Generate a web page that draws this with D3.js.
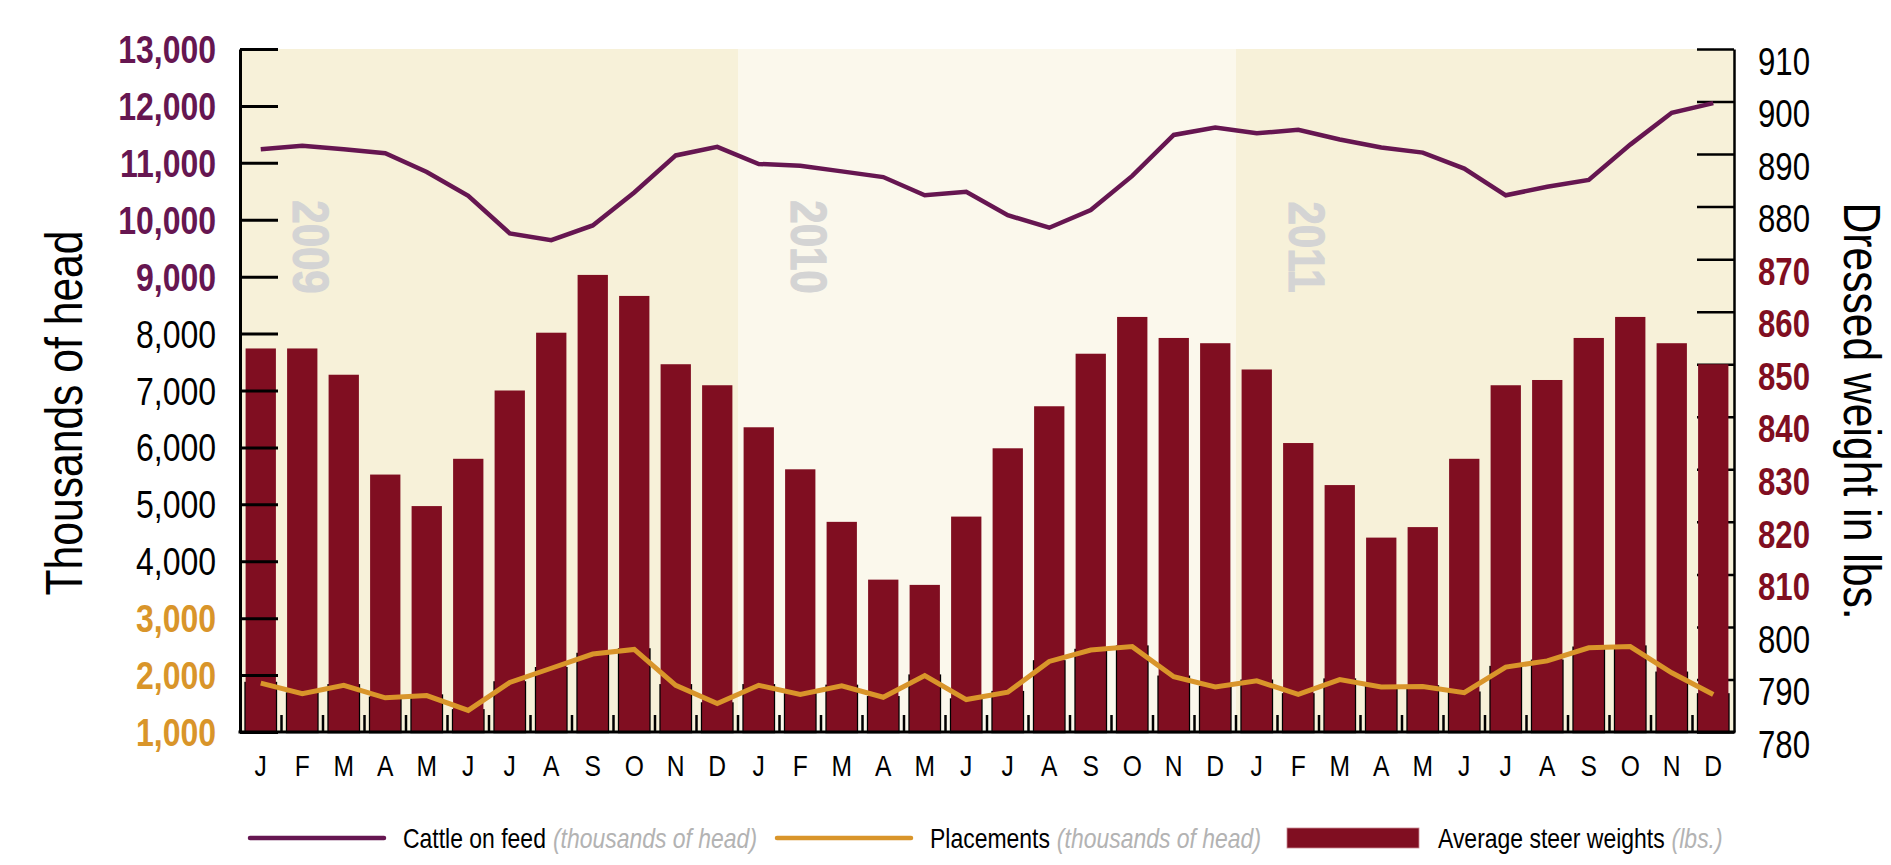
<!DOCTYPE html>
<html>
<head>
<meta charset="utf-8">
<script src="https://cdn.jsdelivr.net/npm/d3@7"></script>
<style>
  body { margin: 0; background: #fff; }
  text { font-family: "Liberation Sans", Arial, sans-serif; }
</style>
</head>
<body>
<svg id="chart" width="1891" height="865"></svg>
<script>
// data
var months = ["J", "F", "M", "A", "M", "J", "J", "A", "S", "O", "N", "D"];
var years = ["2009", "2010", "2011"];

// cattle on feed, thousands of head (left axis)
var cattleOnFeed = [
  11240, 11300, 11240, 11170, 10840, 10420, 9760, 9640, 9900, 10480, 11130, 11280,
  10980, 10950, 10850, 10750, 10430, 10490, 10080, 9860, 10170, 10770, 11490, 11620,
  11520, 11580, 11410, 11270, 11180, 10900, 10430, 10580, 10700, 11320, 11880, 12050
];
// placements, thousands of head (left axis)
var placements = [
  1860, 1675, 1820, 1600, 1640, 1380, 1870, 2120, 2370, 2450, 1820, 1500,
  1820, 1660, 1810, 1610, 1990, 1570, 1700, 2240, 2440, 2500, 1970, 1790,
  1900, 1660, 1920, 1790, 1800, 1690, 2140, 2250, 2480, 2500, 2040, 1660
];
// average steer dressed weights, lbs (right axis)
var steerWeights = [
  853, 853, 848, 829, 823, 832, 845, 856, 867, 863, 850, 846,
  838, 830, 820, 809, 808, 821, 834, 842, 852, 859, 855, 854,
  849, 835, 827, 817, 819, 832, 846, 847, 855, 859, 854, 850
];

var leftTicks = d3.range(1000, 13001, 1000);
var rightTicks = d3.range(780, 911, 10);
var leftPurple = [9000, 10000, 11000, 12000, 13000];
var leftOrange = [1000, 2000, 3000];
var rightRed = [810, 820, 830, 840, 850, 860, 870];

var purple = "#661651", orange = "#d9952a", barRed = "#800e21";

var svg = d3.select("#chart");
var plotL = 240, plotR = 1734, plotT = 49, plotB = 732;

// squeeze text to mimic a condensed face
function narrow(sel, k) {
  sel.each(function () {
    var w = this.getComputedTextLength();
    d3.select(this).attr("textLength", w * k).attr("lengthAdjust", "spacingAndGlyphs");
  });
}

var x = d3.scaleBand().domain(d3.range(36)).range([plotL, plotR])
    .paddingInner(0.27).paddingOuter(0.135);
var yL = d3.scaleLinear().domain([1000, 13000]).range([plotB, plotT]);
var yR = d3.scaleLinear().domain([780, 910]).range([plotB, plotT]);
var gap = (x.step() - x.bandwidth()) / 2;
function slotStart(i) { return x(i) - gap; }
function mid(i) { return x(i) + x.bandwidth() / 2; }

// year backgrounds
svg.append("g").selectAll("rect").data(years).enter().append("rect")
    .attr("x", function (d, i) { return slotStart(i * 12); })
    .attr("y", plotT)
    .attr("width", x.step() * 12)
    .attr("height", plotB - plotT)
    .attr("fill", function (d, i) { return i === 1 ? "#fbf8ec" : "#f7f1d9"; });

svg.append("g").selectAll("text").data(years).enter().append("text")
    .attr("transform", function (d, i) { return "translate(" + (slotStart(i * 12) + 71) + "," + 247 + ") rotate(90)"; })
    .attr("text-anchor", "middle")
    .attr("dy", "0.36em")
    .attr("font-size", 50)
    .attr("font-weight", "bold")
    .attr("fill", "#d4d4d4")
    .attr("stroke", "#d4d4d4")
    .attr("stroke-width", 1.2)
    .text(function (d) { return d; })
    .call(narrow, 0.84);

// right axis, ticks sit under the bars
var rAxis = svg.append("g").attr("transform", "translate(" + plotR + ",0)")
    .call(d3.axisLeft(yR).tickValues(rightTicks).tickSize(37).tickSizeOuter(0).tickFormat(""));
rAxis.selectAll("line").attr("stroke", "#000").attr("stroke-width", 2.5);
rAxis.select(".domain").attr("stroke", "#000").attr("stroke-width", 2.5);

// placements drawn as outlined columns hidden behind the weight bars
svg.append("g").selectAll("rect").data(placements).enter().append("rect")
    .attr("x", function (d, i) { return x(i); })
    .attr("y", function (d) { return yL(d); })
    .attr("width", x.bandwidth())
    .attr("height", function (d) { return plotB - yL(d); })
    .attr("fill", "none")
    .attr("stroke", "#000")
    .attr("stroke-width", 2.5);

svg.append("g").selectAll("rect").data(steerWeights).enter().append("rect")
    .attr("x", function (d, i) { return x(i); })
    .attr("y", function (d) { return yR(d); })
    .attr("width", x.bandwidth())
    .attr("height", function (d) { return plotB - yR(d); })
    .attr("fill", barRed);

var line = d3.line().x(function (d, i) { return mid(i); }).y(function (d) { return yL(d); });

svg.append("path").datum(cattleOnFeed)
    .attr("d", line).attr("fill", "none").attr("stroke", purple)
    .attr("stroke-width", 4.5);
svg.append("path").datum(placements)
    .attr("d", line).attr("fill", "none").attr("stroke", orange)
    .attr("stroke-width", 5);

// left axis, ticks over the bars
var lAxis = svg.append("g").attr("transform", "translate(" + plotL + ",0)")
    .call(d3.axisRight(yL).tickValues(leftTicks).tickSize(38).tickSizeOuter(0).tickFormat(""));
lAxis.selectAll("line").attr("stroke", "#000").attr("stroke-width", 3);
lAxis.select(".domain").attr("stroke", "#000").attr("stroke-width", 3);

// baseline and slot ticks
svg.append("line").attr("x1", plotL - 1.5).attr("x2", plotR + 1.25)
    .attr("y1", plotB).attr("y2", plotB).attr("stroke", "#000").attr("stroke-width", 3);
svg.append("g").selectAll("line").data(d3.range(1, 36)).enter().append("line")
    .attr("x1", function (d) { return slotStart(d); })
    .attr("x2", function (d) { return slotStart(d); })
    .attr("y1", plotB).attr("y2", plotB - 17)
    .attr("stroke", "#000").attr("stroke-width", 2.5);

// tick labels
svg.append("g").selectAll("text").data(leftTicks).enter().append("text")
    .attr("x", plotL - 24)
    .attr("y", function (d) { return yL(d); })
    .attr("dy", "0.36em")
    .attr("text-anchor", "end")
    .attr("font-size", 39)
    .attr("font-weight", function (d) { return leftPurple.indexOf(d) >= 0 || leftOrange.indexOf(d) >= 0 ? "bold" : "normal"; })
    .attr("fill", function (d) { return leftPurple.indexOf(d) >= 0 ? purple : leftOrange.indexOf(d) >= 0 ? orange : "#000"; })
    .text(d3.format(","))
    .call(narrow, 0.82);

svg.append("g").selectAll("text").data(rightTicks).enter().append("text")
    .attr("x", plotR + 24)
    .attr("y", function (d) { return yR(d) + 12; })
    .attr("dy", "0.36em")
    .attr("font-size", 38)
    .attr("font-weight", function (d) { return rightRed.indexOf(d) >= 0 ? "bold" : "normal"; })
    .attr("fill", function (d) { return rightRed.indexOf(d) >= 0 ? barRed : "#000"; })
    .text(function (d) { return d; })
    .call(narrow, 0.82);

svg.append("g").selectAll("text").data(d3.range(36)).enter().append("text")
    .attr("x", function (d) { return mid(d); })
    .attr("y", 765)
    .attr("dy", "0.36em")
    .attr("text-anchor", "middle")
    .attr("font-size", 30)
    .text(function (d) { return months[d % 12]; })
    .call(narrow, 0.82);

svg.append("text")
    .attr("transform", "translate(63,413) rotate(-90)")
    .attr("text-anchor", "middle").attr("dy", "0.36em")
    .attr("font-size", 52)
    .text("Thousands of head")
    .call(narrow, 0.82);
svg.append("text")
    .attr("transform", "translate(1863,411) rotate(90)")
    .attr("text-anchor", "middle").attr("dy", "0.36em")
    .attr("font-size", 52)
    .text("Dressed weight in lbs.")
    .call(narrow, 0.82);

// legend
var legendY = 838;
var legend = [
  { x: 250, name: "Cattle on feed", unit: "(thousands of head)", kind: "line", color: purple },
  { x: 777, name: "Placements", unit: "(thousands of head)", kind: "line", color: orange },
  { x: 1287, name: "Average steer weights", unit: "(lbs.)", kind: "rect", color: barRed }
];
var lg = svg.append("g").selectAll("g").data(legend).enter().append("g")
    .attr("transform", function (d) { return "translate(" + d.x + "," + legendY + ")"; });
lg.filter(function (d) { return d.kind === "line"; }).append("line")
    .attr("x1", 0).attr("x2", 134)
    .attr("stroke", function (d) { return d.color; })
    .attr("stroke-width", 4.5).attr("stroke-linecap", "round");
lg.filter(function (d) { return d.kind === "rect"; }).append("rect")
    .attr("x", 0).attr("y", -10).attr("width", 132).attr("height", 20)
    .attr("fill", function (d) { return d.color; })
    .attr("stroke", "#c98a95").attr("stroke-width", 0.8);
lg.each(function (d) {
  // text group squeezed horizontally so its boxes stay true
  var t = d3.select(this).append("g")
      .attr("transform", "translate(" + (d.kind === "line" ? 153 : 151) + ",0) scale(0.82,1)");
  var nameText = t.append("text")
      .attr("dy", "0.36em")
      .attr("font-size", 28)
      .text(d.name);
  var w = nameText.node().getComputedTextLength();
  t.append("text")
      .attr("x", w + 8.5).attr("dy", "0.36em")
      .attr("font-size", 28)
      .attr("fill", "#b3b3b3").attr("font-style", "italic")
      .text(d.unit);
});
</script>
</body>
</html>
